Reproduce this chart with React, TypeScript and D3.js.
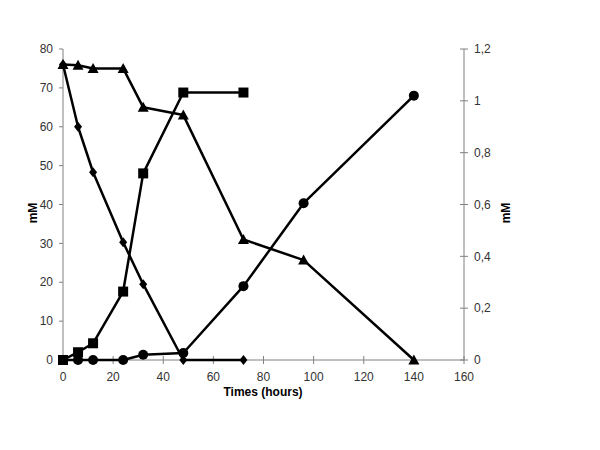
import React from 'react'
import * as d3 from 'd3'

const hours = [0, 6, 12, 24, 32, 48, 72, 96, 140]
const diamondVals = [76, 60, 48.3, 30.3, 19.5, 0, 0]
const triangleVals = [76, 75.8, 75, 75, 65, 63, 31, 25.7, 0]
const squareVals = [0, 2, 4.3, 17.6, 48, 68.8, 68.8]
const circleVals = [0, 0, 0, 0, 0.02, 0.027, 0.285, 0.605, 1.02]

const xTicks = [0, 20, 40, 60, 80, 100, 120, 140, 160]
const leftTicks = [0, 10, 20, 30, 40, 50, 60, 70, 80]
const rightTicks = [0, 0.2, 0.4, 0.6, 0.8, 1, 1.2]

const W = 600
const H = 450
const font = 'Liberation Sans, Arial, sans-serif'

const App = () => {
  const x = d3.scaleLinear().domain([0, 160]).range([63, 464])
  const yL = d3.scaleLinear().domain([0, 80]).range([360, 49])
  const yR = d3.scaleLinear().domain([0, 1.2]).range([360, 49])

  const pts = (vals: number[], y: d3.ScaleLinear<number, number>) =>
    vals.map((v, i) => [x(hours[i]), y(v)] as [number, number])

  const line = d3.line()
  const diamonds = pts(diamondVals, yL)
  const triangles = pts(triangleVals, yL)
  const squares = pts(squareVals, yL)
  const circles = pts(circleVals, yR)

  const fmt = (v: number) => String(v).replace('.', ',')
  const axisCol = '#808080'
  const txtCol = '#333'

  return (
    <svg width={W} height={H} style={{ position: 'absolute', left: 0, top: 0, background: '#fff' }}>
      {/* left axis */}
      <line x1={63} x2={63} y1={49} y2={360} stroke={axisCol} />
      {leftTicks.map((t) => (
        <g key={'l' + t}>
          <line x1={59} x2={63} y1={yL(t)} y2={yL(t)} stroke={axisCol} />
          <text x={53} y={yL(t)} dy="0.35em" textAnchor="end" fontSize={12} fontFamily={font} fill={txtCol}>{t}</text>
        </g>
      ))}
      {/* right axis */}
      <line x1={464} x2={464} y1={49} y2={360} stroke={axisCol} />
      {rightTicks.map((t) => (
        <g key={'r' + t}>
          <line x1={460} x2={468} y1={yR(t)} y2={yR(t)} stroke={axisCol} />
          <text x={474} y={yR(t)} dy="0.35em" textAnchor="start" fontSize={12} fontFamily={font} fill={txtCol}>{fmt(t)}</text>
        </g>
      ))}
      {/* bottom axis */}
      <line x1={63} x2={464} y1={360} y2={360} stroke={axisCol} />
      {xTicks.map((t) => (
        <g key={'x' + t}>
          <line x1={x(t)} x2={x(t)} y1={356} y2={364} stroke={axisCol} />
          <text x={x(t)} y={377} dy="0.35em" textAnchor="middle" fontSize={12} fontFamily={font} fill={txtCol}>{t}</text>
        </g>
      ))}
      <text x={263} y={392} dy="0.35em" textAnchor="middle" fontSize={12} fontWeight="bold" fontFamily={font} fill="#000">Times (hours)</text>
      <text transform="translate(33,213) rotate(-90)" textAnchor="middle" dy="0.35em" fontSize={12} fontWeight="bold" fontFamily={font} fill="#000">mM</text>
      <text transform="translate(506,213) rotate(-90)" textAnchor="middle" dy="0.35em" fontSize={12} fontWeight="bold" fontFamily={font} fill="#000">mM</text>

      {/* series */}
      <g fill="none" stroke="#000" strokeWidth={2.5} strokeLinejoin="round">
        <path d={line(diamonds) || ''} />
        <path d={line(triangles) || ''} />
        <path d={line(squares) || ''} />
        <path d={line(circles) || ''} />
      </g>
      <g fill="#000">
        {diamonds.map(([px, py], i) => (
          <path key={'d' + i} d={`M${px},${py - 5}L${px + 4},${py}L${px},${py + 5}L${px - 4},${py}Z`} />
        ))}
        {triangles.map(([px, py], i) => (
          <path key={'t' + i} d={`M${px},${py - 5.5}L${px + 5.5},${py + 4.5}L${px - 5.5},${py + 4.5}Z`} />
        ))}
        {squares.map(([px, py], i) => (
          <rect key={'s' + i} x={px - 5} y={py - 5} width={10} height={10} />
        ))}
        {circles.map(([px, py], i) => (
          <circle key={'c' + i} cx={px} cy={py} r={5} />
        ))}
      </g>
    </svg>
  )
}

export default App
